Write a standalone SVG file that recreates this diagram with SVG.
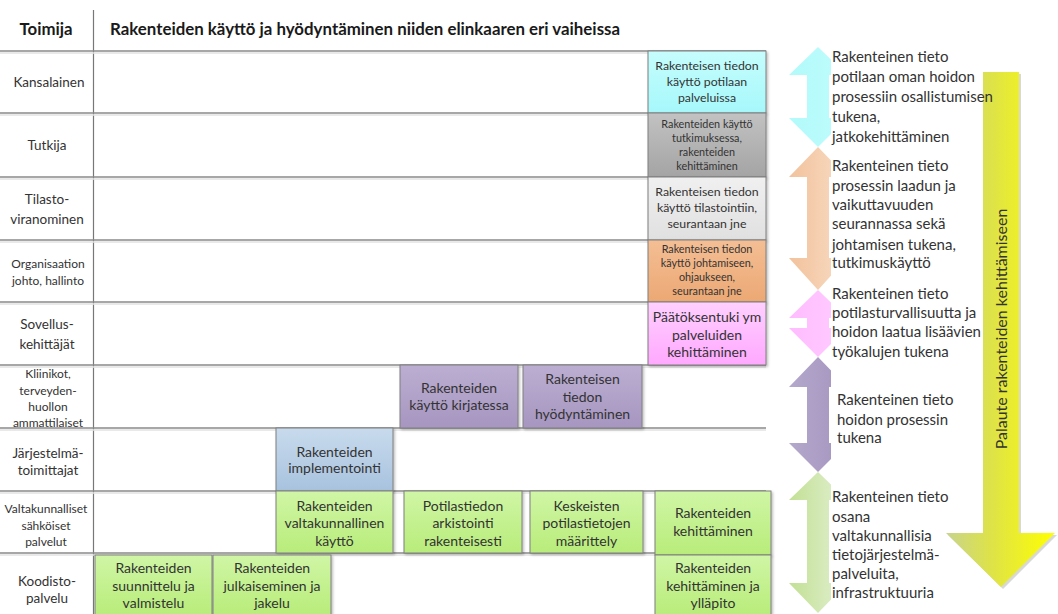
<svg xmlns="http://www.w3.org/2000/svg" width="1058" height="614" viewBox="0 0 1058 614">
<style>
text{font-family:Lato,"Open Sans","Liberation Sans",sans-serif;fill:#333}
.hd{font-weight:bold;font-size:16.8px;fill:#1a1a1a}
.lb{font-size:13.5px;text-anchor:middle}
.ls{font-size:12px;text-anchor:middle}
.bx{font-size:14px;text-anchor:middle}
.bs{font-size:10.8px;text-anchor:middle}
.bm{font-size:12.3px;text-anchor:middle}
.bl{font-size:14px;text-anchor:middle}
.rt{font-size:15px}
.grid{stroke:#8a8a8a;stroke-width:1.5}
.gsh{stroke:#e2e2e2;stroke-width:1.5}
.box{stroke:#7f7f7f;stroke-width:1}
</style>
<defs>
<filter id="sh" x="-10%" y="-10%" width="130%" height="130%"><feDropShadow dx="1.5" dy="1.5" stdDeviation="0.8" flood-color="#000" flood-opacity="0.25"/></filter>
<linearGradient id="gCyan" x1="0" y1="0" x2="0" y2="1"><stop offset="0" stop-color="#c6fdfd"/><stop offset="1" stop-color="#a6f8fb"/></linearGradient>
<linearGradient id="gGray" x1="0" y1="0" x2="0" y2="1"><stop offset="0" stop-color="#c2c2c2"/><stop offset="1" stop-color="#a4a4a4"/></linearGradient>
<linearGradient id="gLG" x1="0" y1="0" x2="0" y2="1"><stop offset="0" stop-color="#f0f0f0"/><stop offset="1" stop-color="#e0e0e0"/></linearGradient>
<linearGradient id="gOr" x1="0" y1="0" x2="0" y2="1"><stop offset="0" stop-color="#f4be94"/><stop offset="1" stop-color="#eca874"/></linearGradient>
<linearGradient id="gPk" x1="0" y1="0" x2="0" y2="1"><stop offset="0" stop-color="#ffd0ff"/><stop offset="1" stop-color="#ffa8ff"/></linearGradient>
<linearGradient id="gPu" x1="0" y1="0" x2="0" y2="1"><stop offset="0" stop-color="#bcaed2"/><stop offset="1" stop-color="#a696c0"/></linearGradient>
<linearGradient id="gBl" x1="0" y1="0" x2="0" y2="1"><stop offset="0" stop-color="#c8dbed"/><stop offset="1" stop-color="#a8c2de"/></linearGradient>
<linearGradient id="gGr" x1="0" y1="0" x2="0" y2="1"><stop offset="0" stop-color="#d0f6a6"/><stop offset="1" stop-color="#b8ec7a"/></linearGradient>
<linearGradient id="aCyan" x1="0" y1="0" x2="1" y2="0"><stop offset="0" stop-color="#b2fafb"/><stop offset="1" stop-color="#bffcfc"/></linearGradient>
<linearGradient id="aOr" x1="0" y1="0" x2="1" y2="0"><stop offset="0" stop-color="#f2c29c"/><stop offset="1" stop-color="#f8dcc4"/></linearGradient>
<linearGradient id="aPk" x1="0" y1="0" x2="1" y2="0"><stop offset="0" stop-color="#ffbcff"/><stop offset="1" stop-color="#ffccff"/></linearGradient>
<linearGradient id="aPu" x1="0" y1="0" x2="1" y2="0"><stop offset="0" stop-color="#b4a8cc"/><stop offset="1" stop-color="#a494be"/></linearGradient>
<linearGradient id="aGr" x1="0" y1="0" x2="1" y2="0"><stop offset="0" stop-color="#c2e094"/><stop offset="1" stop-color="#e2f0d2"/></linearGradient>
<linearGradient id="aYe" x1="946" y1="0" x2="1055" y2="0" gradientUnits="userSpaceOnUse"><stop offset="0" stop-color="#c8d48c"/><stop offset="0.4" stop-color="#dde24a"/><stop offset="1" stop-color="#ffff00"/></linearGradient>
</defs>
<rect width="1058" height="614" fill="#fff"/>

<g id="grid">
<line x1="93.5" y1="10" x2="93.5" y2="614" stroke="#777" stroke-width="1.2"/>
<g class="gsh">
<line x1="0" y1="53" x2="766" y2="53"/><line x1="0" y1="115" x2="766" y2="115"/><line x1="0" y1="179" x2="766" y2="179"/><line x1="0" y1="242" x2="766" y2="242"/><line x1="0" y1="304" x2="766" y2="304"/><line x1="0" y1="367" x2="766" y2="367"/><line x1="0" y1="430" x2="766" y2="430"/><line x1="0" y1="493" x2="766" y2="493"/><line x1="0" y1="555" x2="766" y2="555"/>
</g>
<g class="grid">
<line x1="0" y1="51" x2="766" y2="51"/><line x1="0" y1="113" x2="766" y2="113"/><line x1="0" y1="177" x2="766" y2="177"/><line x1="0" y1="240" x2="766" y2="240"/><line x1="0" y1="302" x2="766" y2="302"/><line x1="0" y1="365" x2="766" y2="365"/><line x1="0" y1="428" x2="766" y2="428"/><line x1="0" y1="491" x2="766" y2="491"/><line x1="0" y1="553" x2="766" y2="553"/>
</g>
</g>

<g id="headers">
<text class="hd" x="46" y="35" text-anchor="middle">Toimija</text>
<text class="hd" x="110" y="35" textLength="510" lengthAdjust="spacingAndGlyphs">Rakenteiden käyttö ja hyödyntäminen niiden elinkaaren eri vaiheissa</text>
</g>

<g id="actors">
<text class="lb" x="49" y="87">Kansalainen</text>
<text class="lb" x="47" y="150">Tutkija</text>
<text class="lb" x="47" y="204">Tilasto-</text><text class="lb" x="47" y="224">viranominen</text>
<text class="ls" x="48" y="267.5">Organisaation</text><text class="ls" x="48" y="284.5">johto, hallinto</text>
<text class="lb" x="47" y="329">Sovellus-</text><text class="lb" x="47" y="349">kehittäjät</text>
<text class="ls" x="48" y="378">Kliinikot,</text><text class="ls" x="48" y="395">terveyden-</text><text class="ls" x="48" y="411">huollon</text><text class="ls" x="48" y="426.5">ammattilaiset</text>
<text class="lb" x="48" y="457.5">Järjestelmä-</text><text class="lb" x="48" y="474.5">toimittajat</text>
<text class="ls" x="46" y="513">Valtakunnalliset</text><text class="ls" x="46" y="530">sähköiset</text><text class="ls" x="46" y="546">palvelut</text>
<text class="lb" x="47" y="585.5">Koodisto-</text><text class="lb" x="47" y="602.5">palvelu</text>
</g>

<g id="n-kansalainen"><rect class="box" x="648" y="51" width="118" height="62" fill="url(#gCyan)" filter="url(#sh)"/>
<text class="bm" x="707" y="70">Rakenteisen tiedon</text><text class="bm" x="707" y="86">käyttö potilaan</text><text class="bm" x="707" y="102">palveluissa</text></g>
<g id="n-tutkija"><rect class="box" x="648" y="113" width="118" height="64" fill="url(#gGray)" filter="url(#sh)"/>
<text class="bs" x="707" y="128">Rakenteiden käyttö</text><text class="bs" x="707" y="142">tutkimuksessa,</text><text class="bs" x="707" y="156">rakenteiden</text><text class="bs" x="707" y="170">kehittäminen</text></g>
<g id="n-tilasto"><rect class="box" x="648" y="177" width="118" height="63" fill="url(#gLG)" filter="url(#sh)"/>
<text class="bm" x="707" y="196">Rakenteisen tiedon</text><text class="bm" x="707" y="212">käyttö tilastointiin,</text><text class="bm" x="707" y="228">seurantaan jne</text></g>
<g id="n-johto"><rect class="box" x="648" y="240" width="118" height="62" fill="url(#gOr)" filter="url(#sh)"/>
<text class="bs" x="707" y="253">Rakenteisen tiedon</text><text class="bs" x="707" y="267">käyttö johtamiseen,</text><text class="bs" x="707" y="281">ohjaukseen,</text><text class="bs" x="707" y="295">seurantaan jne</text></g>
<g id="n-sovellus"><rect class="box" x="648" y="302" width="118" height="63" fill="url(#gPk)" filter="url(#sh)"/>
<text class="bl" x="707" y="322">Päätöksentuki ym</text><text class="bl" x="707" y="340">palveluiden</text><text class="bl" x="707" y="357">kehittäminen</text></g>

<g id="n-kirjatessa"><rect class="box" x="400" y="365" width="118" height="63" fill="url(#gPu)" filter="url(#sh)"/>
<text class="bx" x="459" y="393">Rakenteiden</text><text class="bx" x="459" y="410">käyttö kirjatessa</text></g>
<g id="n-hyodyntaminen"><rect class="box" x="523" y="365" width="119" height="63" fill="url(#gPu)" filter="url(#sh)"/>
<text class="bx" x="582.5" y="384">Rakenteisen</text><text class="bx" x="582.5" y="402">tiedon</text><text class="bx" x="582.5" y="419">hyödyntäminen</text></g>

<g id="n-implementointi"><rect class="box" x="276" y="428" width="117" height="63" fill="url(#gBl)" filter="url(#sh)"/>
<text class="bx" x="334.5" y="457">Rakenteiden</text><text class="bx" x="334.5" y="473">implementointi</text></g>

<g id="n-valtakunnallinen"><rect class="box" x="276" y="491" width="117" height="62" fill="url(#gGr)" filter="url(#sh)"/>
<text class="bx" x="334.5" y="511">Rakenteiden</text><text class="bx" x="334.5" y="528">valtakunnallinen</text><text class="bx" x="334.5" y="546">käyttö</text></g>
<g id="n-arkistointi"><rect class="box" x="404" y="491" width="118" height="62" fill="url(#gGr)" filter="url(#sh)"/>
<text class="bx" x="463" y="511">Potilastiedon</text><text class="bx" x="463" y="528">arkistointi</text><text class="bx" x="463" y="546">rakenteisesti</text></g>
<g id="n-maarittely"><rect class="box" x="530" y="491" width="113" height="62" fill="url(#gGr)" filter="url(#sh)"/>
<text class="bx" x="586.5" y="511">Keskeisten</text><text class="bx" x="586.5" y="528">potilastietojen</text><text class="bx" x="586.5" y="546">määrittely</text></g>
<g id="n-kehittaminen"><rect class="box" x="655" y="491" width="116" height="64" fill="url(#gGr)" filter="url(#sh)"/>
<text class="bx" x="713" y="518">Rakenteiden</text><text class="bx" x="713" y="536">kehittäminen</text></g>

<g id="n-suunnittelu"><rect class="box" x="95" y="555" width="117" height="60" fill="url(#gGr)" filter="url(#sh)"/>
<text class="bx" x="153.5" y="573">Rakenteiden</text><text class="bx" x="153.5" y="591">suunnittelu ja</text><text class="bx" x="153.5" y="608">valmistelu</text></g>
<g id="n-julkaiseminen"><rect class="box" x="213" y="555" width="118" height="60" fill="url(#gGr)" filter="url(#sh)"/>
<text class="bx" x="272" y="573">Rakenteiden</text><text class="bx" x="272" y="591">julkaiseminen ja</text><text class="bx" x="272" y="608">jakelu</text></g>
<g id="n-yllapito"><rect class="box" x="655" y="555" width="116" height="60" fill="url(#gGr)" filter="url(#sh)"/>
<text class="bx" x="713" y="573">Rakenteiden</text><text class="bx" x="713" y="591">kehittäminen ja</text><text class="bx" x="713" y="608">ylläpito</text></g>

<g id="connectors">
<path id="a-cyan" fill="url(#aCyan)" d="M818,47 L847,75 L829,75 L829,118 L847,118 L818,147 L789,118 L807,118 L807,75 L789,75 Z"/>
<path id="a-orange" fill="url(#aOr)" d="M818,147 L847,177 L829,177 L829,258 L847,258 L818,290 L789,258 L807,258 L807,177 L789,177 Z"/>
<path id="a-pink" fill="url(#aPk)" d="M818,290 L847,318 L829,318 L829,328 L847,328 L818,357 L789,328 L807,328 L807,318 L789,318 Z"/>
<path id="a-purple" fill="url(#aPu)" d="M818,357 L847,387 L829,387 L829,443 L847,443 L818,472 L789,443 L807,443 L807,387 L789,387 Z"/>
<path id="a-green" fill="url(#aGr)" d="M818,472 L847,500 L829,500 L829,583 L847,583 L818,613 L789,583 L807,583 L807,500 L789,500 Z"/>
<rect x="831" y="45" width="150" height="569" fill="#fff"/>
</g>

<g id="feedback-arrow">
<path fill="#d8d8d8" d="M985,74 L1021,74 L1021,535 L1057,535 L1003,589 L948,535 L985,535 Z"/>
<path fill="url(#aYe)" d="M983,72 L1019,72 L1019,533 L1055,533 L1001,587 L946,533 L983,533 Z"/>
<text class="rt" transform="translate(1007,329) rotate(-90)" text-anchor="middle" style="font-size:16px">Palaute rakenteiden kehittämiseen</text>
</g>

<g id="arrow-texts">
<text class="rt" x="832" y="62">Rakenteinen tieto</text><text class="rt" x="832" y="82">potilaan oman hoidon</text><text class="rt" x="832" y="102">prosessiin osallistumisen</text><text class="rt" x="832" y="122">tukena,</text><text class="rt" x="832" y="142">jatkokehittäminen</text>
<text class="rt" x="832" y="171">Rakenteinen tieto</text><text class="rt" x="832" y="191">prosessin laadun ja</text><text class="rt" x="832" y="210">vaikuttavuuden</text><text class="rt" x="832" y="229">seurannassa sekä</text><text class="rt" x="832" y="250">johtamisen tukena,</text><text class="rt" x="832" y="268">tutkimuskäyttö</text>
<text class="rt" x="832" y="299">Rakenteinen tieto</text><text class="rt" x="832" y="318">potilasturvallisuutta ja</text><text class="rt" x="832" y="337">hoidon laatua lisäävien</text><text class="rt" x="832" y="357">työkalujen tukena</text>
<text class="rt" x="837" y="405">Rakenteinen tieto</text><text class="rt" x="837" y="425">hoidon prosessin</text><text class="rt" x="837" y="443">tukena</text>
<text class="rt" x="832" y="502">Rakenteinen tieto</text><text class="rt" x="832" y="522">osana</text><text class="rt" x="832" y="541">valtakunnallisia</text><text class="rt" x="832" y="560">tietojärjestelmä-</text><text class="rt" x="832" y="579">palveluita,</text><text class="rt" x="832" y="598">infrastruktuuria</text>
</g>
</svg>
